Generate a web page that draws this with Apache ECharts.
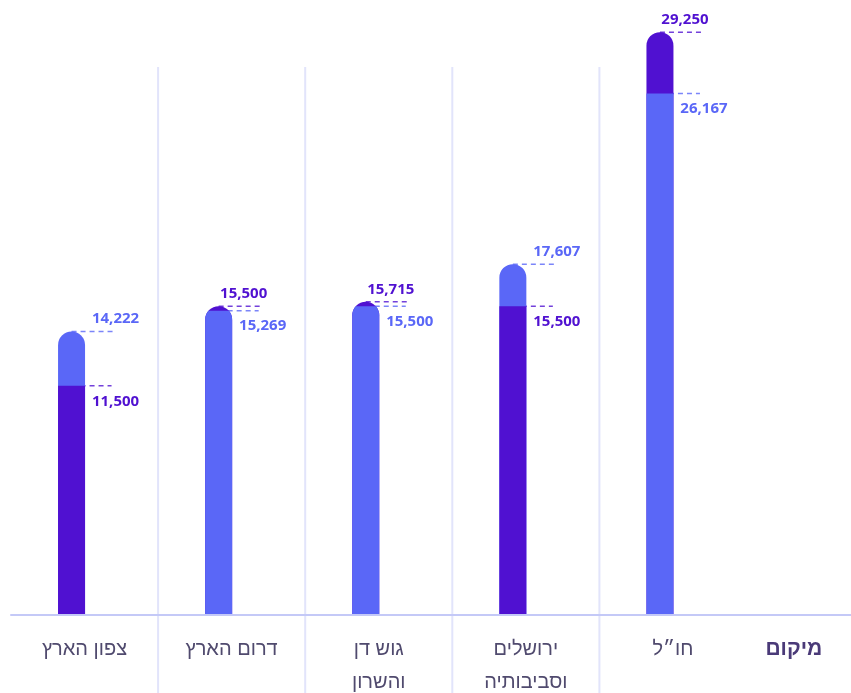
<!DOCTYPE html>
<html><head><meta charset="utf-8">
<script src="https://cdn.jsdelivr.net/npm/echarts@6/dist/echarts.min.js"></script>
<style>html,body{margin:0;padding:0;background:#fff}#c{width:851px;height:693px}</style>
</head><body><div id="c"></div>
<script>
// ---- data ----
const categories = ['צפון הארץ', 'דרום הארץ', 'גוש דן\nוהשרון', 'ירושלים\nוסביבותיה', 'חו״ל'];
const purpleValues = [11500, 15500, 15715, 15500, 29250];
const blueValues = [14222, 15269, 15500, 17607, 26167];
const axisTitle = 'מיקום';

// ---- style ----
const PURPLE = '#5011d1';
const BLUE = '#5a67f7';
const BAR_W = 27;
const BAR_SHIFT = -13;
const NUM_FONT = 'bold 15px "Noto Sans", "Open Sans", sans-serif';

const chart = echarts.init(document.getElementById('c'), null, { renderer: 'canvas' });

function fmt(v) { return v.toLocaleString('en-US'); }

function frontPoints(cx, r, yT, yF, y0) {
  const cy = yT + r;
  if (yF >= cy) {
    return [[cx - r, y0], [cx - r, yF], [cx + r, yF], [cx + r, y0]];
  }
  const hw0 = Math.sqrt(Math.max(0, r * r - (cy - yF) * (cy - yF)));
  const phi0 = Math.asin(Math.min(1, hw0 / r));
  const N = 16;
  const pts = [[cx - r, y0], [cx - r, cy]];
  for (let k = 0; k <= N; k++) {
    const p = Math.PI / 2 - (Math.PI / 2 - phi0) * k / N;
    pts.push([cx - r * Math.sin(p), cy - r * Math.cos(p)]);
  }
  for (let k = 0; k <= N; k++) {
    const p = phi0 + (Math.PI / 2 - phi0) * k / N;
    pts.push([cx + r * Math.sin(p), cy - r * Math.cos(p)]);
  }
  pts.push([cx + r, y0]);
  return pts;
}

function txt(text, x, y, color) {
  return {
    type: 'text',
    style: {
      text: text, x: x, y: y, fill: color, font: NUM_FONT,
      align: 'center', verticalAlign: 'middle',
      textAlign: 'center', textVerticalAlign: 'middle'
    }
  };
}
function dash(x1, x2, y, color) {
  return {
    type: 'line',
    shape: { x1: x1, y1: y, x2: x2, y2: y },
    style: { stroke: color, lineWidth: 1.5, lineDash: [5, 4], opacity: 0.8 }
  };
}

const barData = categories.map((c, i) => [i, purpleValues[i], blueValues[i]]);
const sepData = categories.slice(1).map((c, k) => [k + 1, 0]);

const option = {
  animation: false,
  grid: { left: 11, right: 104.5, top: 67, bottom: 78, containLabel: false, outerBoundsMode: 'none' },
  xAxis: {
    type: 'category',
    data: categories,
    z: 10,
    axisLine: { show: true, lineStyle: { color: '#c4c9f7', width: 2 } },
    axisTick: { show: false },
    splitLine: { show: false },
    axisLabel: {
      margin: 18,
      fontSize: 20,
      lineHeight: 33,
      verticalAlign: 'top',
      color: '#504a6e',
      fontFamily: '"Liberation Sans", "DejaVu Sans", sans-serif'
    },
    name: axisTitle,
    nameLocation: 'end',
    nameGap: 19,
    nameTextStyle: {
      fontSize: 21,
      fontWeight: 'bold',
      color: '#4a3a78',
      verticalAlign: 'top',
      lineHeight: 33,
      padding: [18, 0, 0, 0],
      fontFamily: '"Liberation Sans", "DejaVu Sans", sans-serif'
    }
  },
  yAxis: { type: 'value', min: 0, max: 27500, show: false, splitLine: { show: false } },
  series: [
    {
      type: 'custom',
      name: 'separators',
      z: 1,
      clip: false,
      data: sepData,
      encode: { x: 0, y: 1 },
      renderItem: function (params, api) {
        const cs = params.coordSys;
        const bw = api.size([1, 0])[0];
        const x = api.coord([api.value(0), 0])[0] - bw / 2;
        const children = [{
          type: 'line',
          shape: { x1: x, y1: cs.y, x2: x, y2: api.getHeight() },
          style: { stroke: '#e2e4fb', lineWidth: 2 }
        }];
        if (params.dataIndex === 0) {
          children.push({
            type: 'line',
            shape: { x1: cs.x + cs.width - 1, y1: cs.y + cs.height, x2: api.getWidth(), y2: cs.y + cs.height },
            style: { stroke: '#c4c9f7', lineWidth: 2 }
          });
        }
        return { type: 'group', children: children };
      }
    },
    {
      type: 'custom',
      name: 'values',
      z: 3,
      clip: false,
      data: barData,
      encode: { x: 0, y: [1, 2] },
      renderItem: function (params, api) {
        const i = api.value(0);
        const p = api.value(1), b = api.value(2);
        const base = api.coord([i, 0]);
        const cx = base[0] + BAR_SHIFT;
        const y0 = base[1];
        const r = BAR_W / 2;
        const yP = api.coord([i, p])[1];
        const yB = api.coord([i, b])[1];
        const purpleTop = p >= b;
        const yT = purpleTop ? yP : yB;
        const yF = purpleTop ? yB : yP;
        const topColor = purpleTop ? PURPLE : BLUE;
        const lowColor = purpleTop ? BLUE : PURPLE;
        const topVal = purpleTop ? p : b;
        const lowVal = purpleTop ? b : p;
        const topLabelDx = purpleTop ? 25 : 44;
        return {
          type: 'group',
          children: [
            dash(cx, cx + 42, yT, topColor),
            dash(cx, cx + 40, yF, lowColor),
            {
              type: 'rect',
              shape: { x: cx - r, y: yT, width: BAR_W, height: y0 - yT, r: [r, r, 0, 0] },
              style: { fill: topColor }
            },
            {
              type: 'polygon',
              shape: { points: frontPoints(cx, r, yT, yF, y0) },
              style: { fill: lowColor }
            },
            txt(fmt(topVal), cx + topLabelDx, yT - 12.5, topColor),
            txt(fmt(lowVal), cx + 44, yF + 15.5, lowColor)
          ]
        };
      }
    }
  ]
};
chart.setOption(option);
</script>
</body></html>
